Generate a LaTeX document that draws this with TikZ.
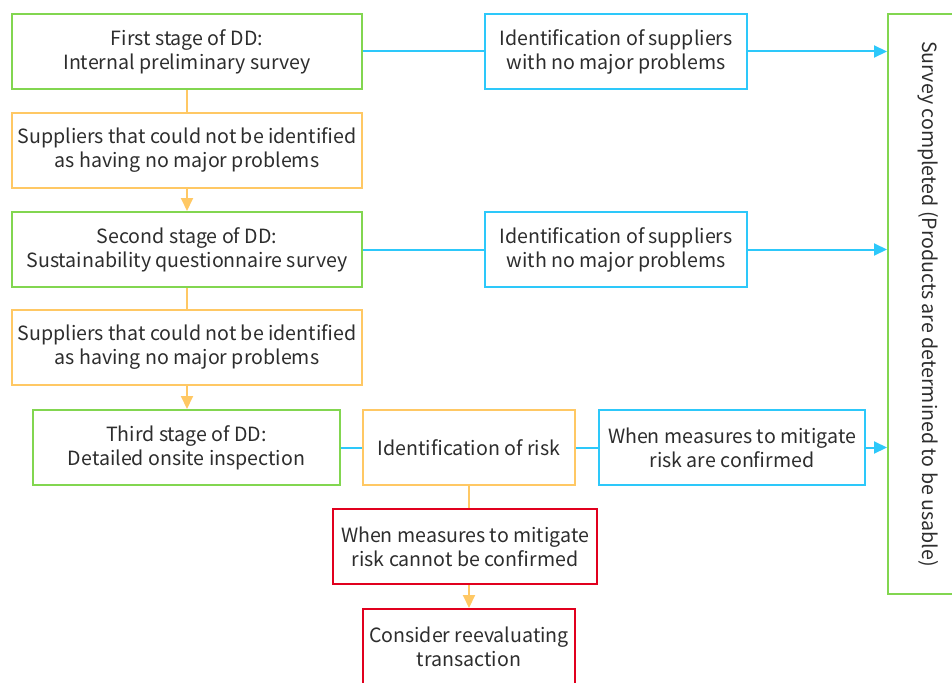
\documentclass[tikz,border=0pt]{standalone}
\usepackage{fontspec}
\setmainfont{Noto Sans CJK JP}
\usetikzlibrary{arrows.meta}
\definecolor{cgreen}{RGB}{130,214,80}
\definecolor{cblue}{RGB}{45,200,250}
\definecolor{corange}{RGB}{255,200,100}
\definecolor{cred}{RGB}{225,0,30}
\definecolor{ctext}{RGB}{45,45,45}
\begin{document}
\begin{tikzpicture}[x=1pt,y=-1pt,
  box/.style={draw, line width=2pt, fill=white, minimum height=75pt, align=center, inner sep=1pt,
    font=\fontsize{19.6}{24}\selectfont, text=ctext},
  gbox/.style={box, draw=cgreen},
  bbox/.style={box, draw=cblue},
  obox/.style={box, draw=corange},
  rbox/.style={box, draw=cred},
  bl/.style={draw=cblue, line width=2pt},
  ol/.style={draw=corange, line width=2pt},
  tip/.style={-{Triangle[length=13pt,width=12pt]}}
]
\useasboundingbox (0,0) rectangle (952,682);
\node[gbox, minimum width=350pt] (g1) at (187,51.5) {First stage of DD:\\Internal preliminary survey};
\node[bbox, minimum width=262pt] (b1) at (616,51.5) {Identification of suppliers\\with no major problems};
\node[obox, minimum width=350pt] (o1) at (187,150.5) {Suppliers that could not be identified\\as having no major problems};
\node[gbox, minimum width=350pt] (g2) at (187,249.5) {Second stage of DD:\\Sustainability questionnaire survey};
\node[bbox, minimum width=262pt] (b2) at (616,249.5) {Identification of suppliers\\with no major problems};
\node[obox, minimum width=350pt] (o2) at (187,347.5) {Suppliers that could not be identified\\as having no major problems};
\node[gbox, minimum width=307pt] (g3) at (186.5,447.5) {Third stage of DD:\\Detailed onsite inspection};
\node[obox, minimum width=212pt] (o3) at (469,447.5) {Identification of risk};
\node[bbox, minimum width=266pt] (b3) at (732,447.5) {When measures to mitigate\\risk are confirmed};
\node[rbox, minimum width=264pt] (r1) at (465,546.5) {When measures to mitigate\\risk cannot be confirmed};
\node[rbox, minimum width=212pt] (r2) at (469,646.5) {Consider reevaluating\\transaction};
\node[gbox, minimum width=80pt, minimum height=580pt] (R) at (928,304) {};
\node[font=\fontsize{19.6}{24}\selectfont, text=ctext, rotate=-90] (Rt) at (R.center) {Survey completed (Products are determined to be usable)};
% connectors
\draw[bl] (g1.east) -- (b1.west);
\draw[bl,tip] (b1.east) -- (b1.east -| R.west);
\draw[bl] (g2.east) -- (b2.west);
\draw[bl,tip] (b2.east) -- (b2.east -| R.west);
\draw[ol] (g1.south) -- (o1.north);
\draw[ol,tip] (o1.south) -- (g2.north);
\draw[ol] (g2.south) -- (o2.north);
\draw[ol,tip] (o2.south) -- (o2.south |- g3.north);
\draw[bl] (g3.east) -- (o3.west);
\draw[bl] (o3.east) -- (b3.west);
\draw[bl,tip] (b3.east) -- (b3.east -| R.west);
\draw[ol] (o3.south) -- (o3.south |- r1.north);
\draw[ol,tip] (o3.south |- r1.south) -- (r2.north);
\end{tikzpicture}
\end{document}
